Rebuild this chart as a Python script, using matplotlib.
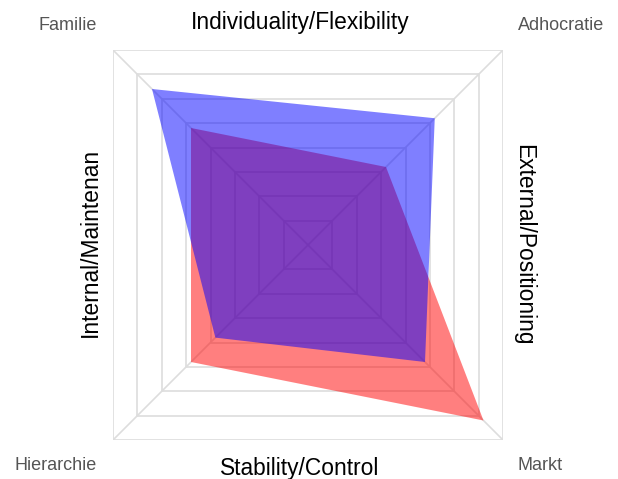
import numpy as np
import matplotlib.pyplot as plt
from matplotlib.patches import Polygon

# corner order: Familie (top-left), Adhocratie (top-right), Markt (bottom-right), Hierarchie (bottom-left)
corners = ['Familie', 'Adhocratie', 'Markt', 'Hierarchie']
blue_values = [32, 26, 24, 19]
red_values = [24, 16, 36, 24]
scale_max = 40
ring_step = 5

plt.rcParams['font.family'] = ['Liberation Sans', 'DejaVu Sans']

# unit vectors towards the square corners
dirs = np.array([[-1, 1], [1, 1], [1, -1], [-1, -1]], dtype=float)

fig = plt.figure(figsize=(6.18, 4.79), dpi=100)
ax = fig.add_axes([113 / 618, 39 / 479, 390 / 618, 390 / 479])
ax.set_xlim(-scale_max, scale_max)
ax.set_ylim(-scale_max, scale_max)
ax.set_aspect('equal')
ax.axis('off')

# square grid rings and diagonal spokes
grid_color = '#dddddd'
for r in np.arange(ring_step, scale_max + 0.1, ring_step):
    sq = dirs * r
    ax.add_patch(Polygon(sq, closed=True, fill=False, edgecolor=grid_color, lw=1.2, zorder=1))
for d in dirs:
    ax.plot([0, d[0] * scale_max], [0, d[1] * scale_max], color=grid_color, lw=1.2, zorder=1)

# datasets (red first, blue on top)
red_pts = dirs * np.array(red_values)[:, None]
blue_pts = dirs * np.array(blue_values)[:, None]
ax.add_patch(Polygon(red_pts, closed=True, facecolor=(1, 0, 0, 0.5), edgecolor='none', zorder=2))
ax.add_patch(Polygon(blue_pts, closed=True, facecolor=(0, 0, 1, 0.5), edgecolor='none', zorder=3))

# corner labels
label_pos = {'Familie': (68, 26), 'Adhocratie': (561, 26), 'Markt': (540, 466), 'Hierarchie': (56, 466)}
for name in corners:
    x, y = label_pos[name]
    fig.text(x / 618, 1 - y / 479, name, ha='center', va='center', fontsize=13, color='#555555')

# axis titles
fig.text(300 / 618, 1 - 22 / 479, 'Individuality/Flexibility', ha='center', va='center', fontsize=16.4, color='black')
fig.text(300 / 618, 1 - 468 / 479, 'Stability/Control', ha='center', va='center', fontsize=16.4, color='black')
fig.text(90 / 618, 1 - 242 / 479, 'Internal/Maintenan', ha='center', va='center', fontsize=16.4, rotation=90, color='black')
fig.text(524 / 618, 1 - 245 / 479, 'External/Positioning', ha='center', va='center', fontsize=16.4, rotation=-90, color='black')

fig.savefig('out.png', dpi=100)
